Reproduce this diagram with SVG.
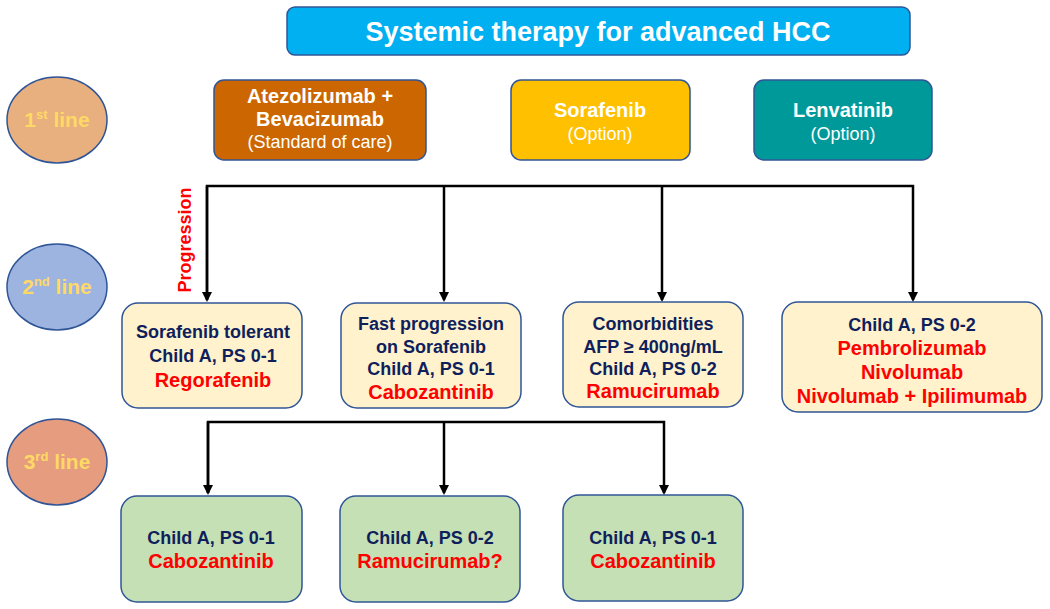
<svg xmlns="http://www.w3.org/2000/svg" width="1050" height="609" viewBox="0 0 1050 609">
<style>
text{font-family:"Liberation Sans",Arial,sans-serif;font-weight:bold;text-anchor:middle}
.box{stroke:#2F5597;stroke-width:1.5}
.w{fill:#fff}
.wr{fill:#fff;font-weight:normal;font-size:18px}
.n{fill:#0f1f5c;font-size:18px}
.r{fill:#ff0000;font-size:20px}
.lt{fill:#FFD966;font-size:21px}
.conn{fill:none;stroke:#000;stroke-width:2.5}
</style>
<defs>
<marker id="ah" markerWidth="10" markerHeight="10" refX="8" refY="5" orient="auto" markerUnits="userSpaceOnUse">
<path d="M0,0 L10,5 L0,10 Z" fill="#000"/>
</marker>
</defs>

<g id="title">
<rect class="box" x="287" y="7" width="623" height="48" rx="8" fill="#00B0F0"/>
<text class="w" x="598" y="41" font-size="27">Systemic therapy for advanced HCC</text>
</g>

<g id="line1">
<ellipse class="box" cx="57" cy="120" rx="50" ry="43" fill="#E8B07E"/>
<text class="lt" x="57" y="127">1<tspan dy="-8" font-size="13">st</tspan><tspan dy="8"> line</tspan></text>
</g>
<g id="line2">
<ellipse class="box" cx="57" cy="287" rx="50" ry="43" fill="#9DB4E0"/>
<text class="lt" x="57" y="294">2<tspan dy="-8" font-size="13">nd</tspan><tspan dy="8"> line</tspan></text>
</g>
<g id="line3">
<ellipse class="box" cx="57" cy="462" rx="50" ry="43" fill="#E59C7F"/>
<text class="lt" x="57" y="469">3<tspan dy="-8" font-size="13">rd</tspan><tspan dy="8"> line</tspan></text>
</g>

<g id="atezo">
<rect class="box" x="214" y="80" width="212" height="80" rx="10" fill="#CC6600"/>
<text class="w" x="320" y="103" font-size="20">Atezolizumab +</text>
<text class="w" x="320" y="126" font-size="20">Bevacizumab</text>
<text class="wr" x="320" y="148">(Standard of care)</text>
</g>
<g id="sorafenib">
<rect class="box" x="511" y="80" width="179" height="80" rx="10" fill="#FFC000"/>
<text class="w" x="600" y="117" font-size="20">Sorafenib</text>
<text class="wr" x="600" y="140">(Option)</text>
</g>
<g id="lenvatinib">
<rect class="box" x="754" y="80" width="178" height="80" rx="10" fill="#009999"/>
<text class="w" x="843" y="117" font-size="20">Lenvatinib</text>
<text class="wr" x="843" y="140">(Option)</text>
</g>

<g id="connectors">
<path class="conn" d="M207,300 V186 H913 V300" marker-end="url(#ah)"/>
<path class="conn" d="M207,186 V300" marker-end="url(#ah)"/>
<path class="conn" d="M444,186 V300" marker-end="url(#ah)"/>
<path class="conn" d="M662,186 V300" marker-end="url(#ah)"/>
<path class="conn" d="M208,493 V422 H664 V493" marker-end="url(#ah)"/>
<path class="conn" d="M208,422 V493" marker-end="url(#ah)"/>
<path class="conn" d="M444,422 V493" marker-end="url(#ah)"/>
<text transform="translate(191,240) rotate(-90)" fill="#ff0000" font-size="18">Progression</text>
</g>

<g id="regorafenib">
<rect class="box" x="122" y="303" width="180" height="105" rx="16" fill="#FFF2CC"/>
<text class="n" x="213" y="338">Sorafenib tolerant</text>
<text class="n" x="213" y="362">Child A, PS 0-1</text>
<text class="r" x="213" y="387">Regorafenib</text>
</g>
<g id="cabozantinib2">
<rect class="box" x="341" y="303" width="180" height="105" rx="16" fill="#FFF2CC"/>
<text class="n" x="431" y="330">Fast progression</text>
<text class="n" x="431" y="353">on Sorafenib</text>
<text class="n" x="431" y="375">Child A, PS 0-1</text>
<text class="r" x="431" y="399">Cabozantinib</text>
</g>
<g id="ramucirumab2">
<rect class="box" x="563" y="302" width="180" height="105" rx="16" fill="#FFF2CC"/>
<text class="n" x="653" y="330">Comorbidities</text>
<text class="n" x="653" y="353">AFP ≥ 400ng/mL</text>
<text class="n" x="653" y="375">Child A, PS 0-2</text>
<text class="r" x="653" y="398">Ramucirumab</text>
</g>
<g id="immuno">
<rect class="box" x="782" y="302" width="260" height="110" rx="16" fill="#FFF2CC"/>
<text class="n" x="912" y="331">Child A, PS 0-2</text>
<text class="r" x="912" y="355">Pembrolizumab</text>
<text class="r" x="912" y="379">Nivolumab</text>
<text class="r" x="912" y="403">Nivolumab + Ipilimumab</text>
</g>

<g id="cabozantinib3a">
<rect class="box" x="121" y="496" width="181" height="106" rx="16" fill="#C5E0B4"/>
<text class="n" x="211" y="544">Child A, PS 0-1</text>
<text class="r" x="211" y="568">Cabozantinib</text>
</g>
<g id="ramucirumab3">
<rect class="box" x="340" y="496" width="180" height="106" rx="16" fill="#C5E0B4"/>
<text class="n" x="430" y="544">Child A, PS 0-2</text>
<text class="r" x="430" y="568">Ramucirumab?</text>
</g>
<g id="cabozantinib3b">
<rect class="box" x="563" y="495" width="180" height="106" rx="16" fill="#C5E0B4"/>
<text class="n" x="653" y="544">Child A, PS 0-1</text>
<text class="r" x="653" y="568">Cabozantinib</text>
</g>
</svg>
